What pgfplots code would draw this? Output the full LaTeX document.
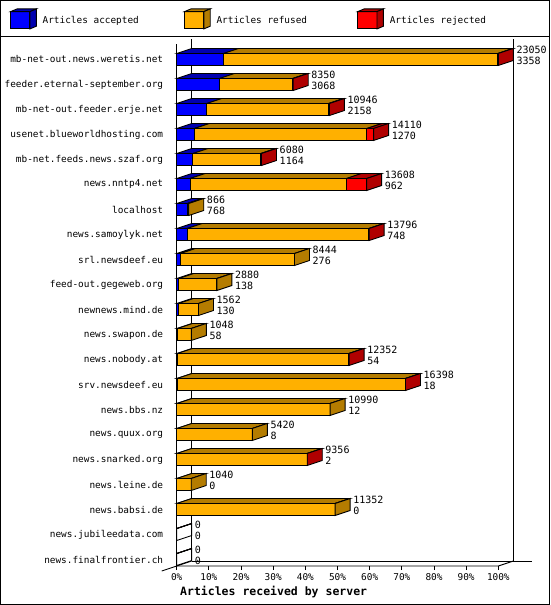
\documentclass[border=0pt]{standalone}
\usepackage{pgfplots}
\pgfplotsset{compat=1.18}
\usepackage{pgfplotstable}
\usepackage{fontspec}
\setmainfont{DejaVu Sans Mono}
\definecolor{cblue}{RGB}{0,0,255}
\definecolor{dblue}{RGB}{0,0,176}
\definecolor{corange}{RGB}{255,176,0}
\definecolor{dorange}{RGB}{180,124,0}
\definecolor{cred}{RGB}{255,0,0}
\definecolor{dred}{RGB}{176,0,0}

% acc = accepted, ref = refused, rej = rejected, total = offered
\pgfplotstableread{
idx name acc ref rej total
0 mb-net-out.news.weretis.net 3358 19652 40 23050
1 feeder.eternal-september.org 3068 5232 50 8350
2 mb-net-out.feeder.erje.net 2158 8718 70 10946
3 usenet.blueworldhosting.com 1270 12360 480 14110
4 mb-net.feeds.news.szaf.org 1164 4866 50 6080
5 news.nntp4.net 962 11212 1434 13608
6 localhost 768 98 0 866
7 news.samoylyk.net 748 13018 30 13796
8 srl.newsdeef.eu 276 8168 0 8444
9 feed-out.gegeweb.org 138 2742 0 2880
10 newnews.mind.de 130 1432 0 1562
11 news.swapon.de 58 990 0 1048
12 news.nobody.at 54 12278 20 12352
13 srv.newsdeef.eu 18 16360 20 16398
14 news.bbs.nz 12 10978 0 10990
15 news.quux.org 8 5412 0 5420
16 news.snarked.org 2 9334 20 9356
17 news.leine.de 0 1040 0 1040
18 news.babsi.de 0 11352 0 11352
19 news.jubileedata.com 0 0 0 0
20 news.finalfrontier.ch 0 0 0 0
}\srvdata

\begin{document}
\begin{tikzpicture}[line width=0.9pt]
\path[use as bounding box] (0,0) rectangle (550pt,605pt);
\begin{axis}[
  at={(161.7pt,39pt)}, anchor=south west,
  scale only axis, width=370.4pt, height=526.5pt,
  xmin=-4.664, xmax=110.5, ymin=-20.26, ymax=0.8,
  clip=false,
  axis line style={draw=none},
  /pgf/number format/assume math mode=true,
  xtick={0,10,...,100},
  xticklabel={\pgfmathprintnumber{\tick}\%},
  xtick pos=left, xtick align=outside,
  major tick length=4pt,
  x tick style={draw=black, line width=0.9pt},
  xticklabel style={font=\fontsize{9.4}{11}\selectfont},
  ytick={-20,-19,...,0},
  ytick pos=left,
  y tick style={draw=none},
  yticklabel={\pgfmathtruncatemacro\r{20-\ticknum}\pgfplotstablegetelem{\r}{name}\of\srvdata\pgfplotsretval},
  yticklabel style={font=\fontsize{9.4}{11}\selectfont, inner sep=0pt, anchor=east, xshift=1.6pt},
  xlabel={Articles received by server},
  xlabel style={at={(axis description cs:0.0494,-0.0488)}, anchor=west, inner sep=0pt, font=\bfseries\fontsize{11.5}{13}\selectfont},
  legend columns=3,
  legend cell align=left,
  legend style={at={(axis description cs:-0.4096,1.0593)}, anchor=north west, draw=none, fill=none,
    inner sep=0pt, font=\fontsize{9.4}{11}\selectfont,
    /tikz/every odd column/.append style={column sep=3.9pt}},
]
% legend
\addlegendimage{legend image code/.code={
 \draw[line width=0.9pt,fill=cblue] (0pt,-8.65pt) rectangle (19.3pt,8.65pt);
 \draw[line width=0.9pt,fill=dblue] (0pt,8.65pt) -- (6.4pt,11.35pt) -- (25.7pt,11.35pt) -- (19.3pt,8.65pt) -- cycle;
 \draw[line width=0.9pt,fill=dblue] (19.3pt,-8.65pt) -- (25.7pt,-5.95pt) -- (25.7pt,11.35pt) -- (19.3pt,8.65pt) -- cycle;}}
\addlegendentry{\makebox[139.4pt][l]{Articles accepted}}
\addlegendimage{legend image code/.code={
 \draw[line width=0.9pt,fill=corange] (0pt,-8.65pt) rectangle (19.3pt,8.65pt);
 \draw[line width=0.9pt,fill=dorange] (0pt,8.65pt) -- (6.4pt,11.35pt) -- (25.7pt,11.35pt) -- (19.3pt,8.65pt) -- cycle;
 \draw[line width=0.9pt,fill=dorange] (19.3pt,-8.65pt) -- (25.7pt,-5.95pt) -- (25.7pt,11.35pt) -- (19.3pt,8.65pt) -- cycle;}}
\addlegendentry{\makebox[138.7pt][l]{Articles refused}}
\addlegendimage{legend image code/.code={
 \draw[line width=0.9pt,fill=cred] (0pt,-8.65pt) rectangle (19.3pt,8.65pt);
 \draw[line width=0.9pt,fill=dred] (0pt,8.65pt) -- (6.4pt,11.35pt) -- (25.7pt,11.35pt) -- (19.3pt,8.65pt) -- cycle;
 \draw[line width=0.9pt,fill=dred] (19.3pt,-8.65pt) -- (25.7pt,-5.95pt) -- (25.7pt,11.35pt) -- (19.3pt,8.65pt) -- cycle;}}
\addlegendentry{Articles rejected}

% frame (walls and floor)
\addplot[forget plot, black, line width=0.9pt, mark=none] coordinates {(0,0.6) (0,-20.26)};
\addplot[forget plot, black, line width=0.9pt, mark=none] coordinates {(4.664,0.8) (4.664,-20.06)};
\addplot[forget plot, black, line width=0.9pt, mark=none] coordinates {(104.664,0.8) (104.664,-20.06)};
\addplot[forget plot, black, line width=0.9pt, mark=none] coordinates {(4.664,-20.06) (110.5,-20.06)};
\addplot[forget plot, black, line width=0.9pt, mark=none] coordinates {(0,-20.26) (100,-20.26) (104.664,-20.06)};
\addplot[forget plot, black, line width=0.9pt, mark=none] coordinates {(-4.664,-20.46) (4.664,-20.06)};

% front faces (drawn back to front: total, accepted+refused, accepted)
\addplot[forget plot, xbar, bar width=12pt, bar shift=0pt, draw=black, line width=0.9pt, fill=cred]
  table[x expr=\thisrow{total}/230.5, y expr=-\thisrow{idx}]{\srvdata};
\addplot[forget plot, xbar, bar width=12pt, bar shift=0pt, draw=black, line width=0.9pt, fill=corange]
  table[x expr=(\thisrow{acc}+\thisrow{ref})/230.5, y expr=-\thisrow{idx}]{\srvdata};
\addplot[forget plot, xbar, bar width=12pt, bar shift=0pt, draw=black, line width=0.9pt, fill=cblue]
  table[x expr=\thisrow{acc}/230.5, y expr=-\thisrow{idx}]{\srvdata};

% top and side faces
\pgfplotsinvokeforeach{0,...,20}{%
  \pgfplotstablegetelem{#1}{acc}\of\srvdata\let\va\pgfplotsretval
  \pgfplotstablegetelem{#1}{ref}\of\srvdata\let\vr\pgfplotsretval
  \pgfplotstablegetelem{#1}{rej}\of\srvdata\let\vj\pgfplotsretval
  \edef\sa{\the\numexpr(\va)*200/461\relax}%
  \edef\sb{\the\numexpr(\va+\vr)*200/461\relax}%
  \edef\sd{\the\numexpr(\va+\vr+\vj)*200/461\relax}%
  \pgfmathsetmacro\xa{\sa/100}%
  \pgfmathsetmacro\xb{\sb/100}%
  \pgfmathsetmacro\xc{\sd/100}%
  \pgfmathsetmacro\xA{\xa+4.664}%
  \pgfmathsetmacro\xB{\xb+4.664}%
  \pgfmathsetmacro\xC{\xc+4.664}%
  \pgfmathsetmacro\yt{-#1+0.24}%
  \pgfmathsetmacro\yb{-#1-0.24}%
  \pgfmathsetmacro\yu{-#1+0.44}%
  \pgfmathsetmacro\yv{-#1-0.04}%
  \ifnum\vj>0 \def\scol{dred}\else\ifnum\vr>0 \def\scol{dorange}\else\ifnum\va>0 \def\scol{dblue}\else\def\scol{none}\fi\fi\fi
  \edef\doit{%
    \noexpand\addplot[forget plot,draw=black,line width=0.9pt,fill=dblue,mark=none] coordinates {(0,\yt) (\xa,\yt) (\xA,\yu) (4.664,\yu)} -- cycle;
    \noexpand\addplot[forget plot,draw=black,line width=0.9pt,fill=dorange,mark=none] coordinates {(\xa,\yt) (\xb,\yt) (\xB,\yu) (\xA,\yu)} -- cycle;
    \noexpand\addplot[forget plot,draw=black,line width=0.9pt,fill=dred,mark=none] coordinates {(\xb,\yt) (\xc,\yt) (\xC,\yu) (\xB,\yu)} -- cycle;
    \noexpand\addplot[forget plot,draw=black,line width=0.9pt,fill=\scol,mark=none] coordinates {(\xc,\yb) (\xC,\yv) (\xC,\yu) (\xc,\yt)} -- cycle;
  }\doit
}

% value labels: offered (top) and accepted (bottom)
\addplot[forget plot, draw=none, mark=none, nodes near coords={\pgfplotspointmeta}, point meta=explicit symbolic,
  nodes near coords style={anchor=west, inner sep=0pt, xshift=3pt, font=\fontsize{10}{11}\selectfont}]
  table[x expr=\thisrow{total}/230.5+4.664, y expr=-\thisrow{idx}+0.38, meta=total]{\srvdata};
\addplot[forget plot, draw=none, mark=none, nodes near coords={\pgfplotspointmeta}, point meta=explicit symbolic,
  nodes near coords style={anchor=west, inner sep=0pt, xshift=3pt, font=\fontsize{10}{11}\selectfont}]
  table[x expr=\thisrow{total}/230.5+4.664, y expr=-\thisrow{idx}-0.05, meta=acc]{\srvdata};
\end{axis}
\draw[line width=1pt] (0.5pt,0.5pt) rectangle (549.5pt,604.5pt);
\draw[line width=1pt] (0pt,568.5pt) -- (550pt,568.5pt);
\end{tikzpicture}
\end{document}
